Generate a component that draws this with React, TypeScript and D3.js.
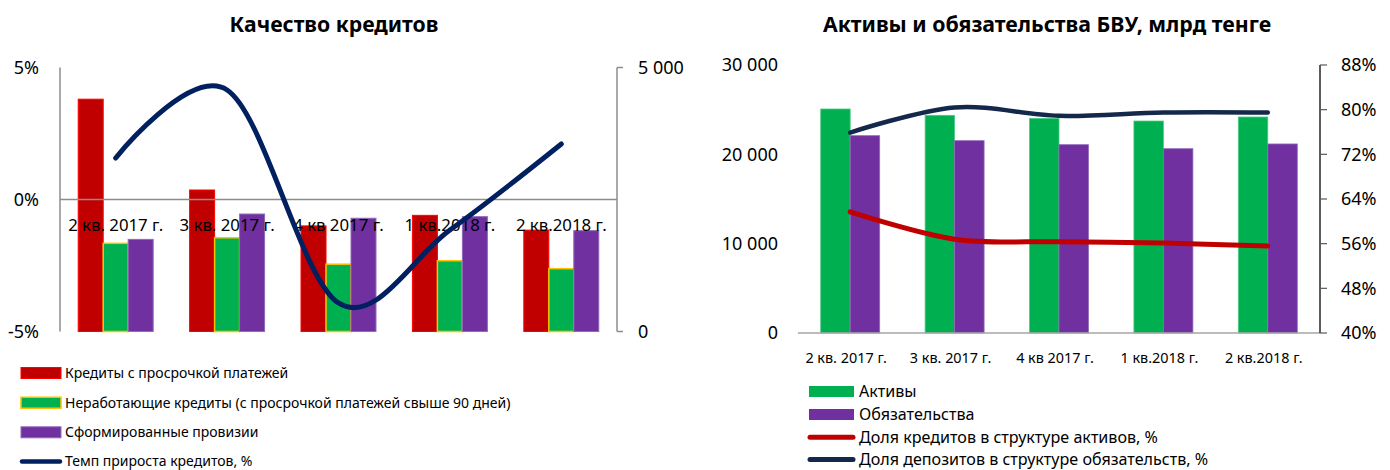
import React from "react";
import * as d3 from "d3";

// ---------- Left chart data ----------
const catsLeft = ["2 кв. 2017 г.", "3 кв. 2017 г.", "4 кв 2017 г.", "1 кв.2018 г.", "2 кв.2018 г."];
const overdueLoans = [3.8, 0.36, -1.0, -0.6, -1.16];
const npl = [-1.66, -1.45, -2.45, -2.32, -2.62];
const provisions = [-1.51, -0.55, -0.71, -0.65, -1.18];
const loanGrowth = [3286, 4574, 540, 1922, 3551];
const leftPctTicks = [-5, 0, 5];
const leftCountTicks = [0, 5000];
const leftSeriesNames = [
  "Кредиты с просрочкой платежей",
  "Неработающие кредиты (с просрочкой платежей свыше 90 дней)",
  "Сформированные провизии",
  "Темп прироста кредитов, %",
];

// ---------- Right chart data ----------
const catsRight = ["2 кв. 2017 г.", "3 кв. 2017 г.", "4 кв 2017 г.", "1 кв.2018 г.", "2 кв.2018 г."];
const assets = [25075, 24370, 24030, 23730, 24180];
const liabilities = [22090, 21530, 21080, 20630, 21160];
const loanShare = [61.7, 56.8, 56.35, 56.1, 55.6];
const depositShare = [75.9, 80.4, 78.9, 79.5, 79.5];
const rightValTicks = [0, 10000, 20000, 30000];
const rightPctTicks = [40, 48, 56, 64, 72, 80, 88];
const rightSeriesNames = [
  "Активы",
  "Обязательства",
  "Доля кредитов в структуре активов, %",
  "Доля депозитов в структуре обязательств, %",
];

const FONT = "'Noto Sans', 'Open Sans', sans-serif";
const fmtThousands = (v: number) => d3.format(",")(v).replace(/,/g, " ");

function LeftChart() {
  const x0 = 60, x1 = 617, yTop = 67.5, yBot = 331.5;
  const xBand = d3.scaleBand<string>().domain(catsLeft).range([x0, x1]).paddingInner(0.327).paddingOuter(0.1635);
  const keys = ["a", "b", "c"];
  const xSub = d3.scaleBand<string>().domain(keys).range([0, xBand.bandwidth()]);
  const yPct = d3.scaleLinear().domain([-5, 5]).range([yBot, yTop]);
  const yCnt = d3.scaleLinear().domain([0, 5000]).range([yBot, yTop]);
  const series = [
    { key: "a", vals: overdueLoans, fill: "#C00000", stroke: "#FF0000", sw: 1 },
    { key: "b", vals: npl, fill: "#00B050", stroke: "#FFC000", sw: 1.5 },
    { key: "c", vals: provisions, fill: "#7030A0", stroke: "#8F6BB8", sw: 1 },
  ];
  const cx = (c: string) => (xBand(c) as number) + xBand.bandwidth() / 2;
  const line = d3
    .line<number>()
    .x((_, i) => cx(catsLeft[i]))
    .y((d) => yCnt(d))
    .curve(d3.curveCatmullRom.alpha(0));
  const legendRows = [373, 402.7, 432.3, 461.5];
  return (
    <g>
      <text x={334} y={32} textAnchor="middle" fontFamily={FONT} fontWeight="bold" fontSize={21.2} fill="#000">
        Качество кредитов
      </text>
      {/* bars */}
      {series.map((s) =>
        s.vals.map((v, i) => {
          const c = catsLeft[i];
          const bx = (xBand(c) as number) + (xSub(s.key) as number);
          const top = yPct(v);
          return (
            <rect
              key={s.key + i}
              x={bx}
              y={top}
              width={xSub.bandwidth()}
              height={yPct(-5) - top}
              fill={s.fill}
              stroke={s.stroke}
              strokeWidth={s.sw}
            />
          );
        })
      )}
      {/* zero line */}
      <line x1={x0} x2={x1} y1={yPct(0)} y2={yPct(0)} stroke="#8C8C8C" strokeWidth={1.5} />
      {/* left axis */}
      <line x1={x0} x2={x0} y1={yTop} y2={yBot} stroke="#8C8C8C" strokeWidth={1.5} />
      {leftPctTicks.map((t) => (
        <text key={t} x={39} y={yPct(t)} dy="0.35em" textAnchor="end" fontFamily={FONT} fontSize={18} fill="#000">
          {t + "%"}
        </text>
      ))}
      {/* right axis */}
      <line x1={x1} x2={x1} y1={yTop} y2={yBot} stroke="#8C8C8C" strokeWidth={1.5} />
      {leftCountTicks.map((t) => (
        <g key={t}>
          <line x1={x1} x2={x1 + 6} y1={yCnt(t)} y2={yCnt(t)} stroke="#8C8C8C" strokeWidth={1.5} />
          <text x={638} y={yCnt(t)} dy="0.35em" fontFamily={FONT} fontSize={18} fill="#000">
            {fmtThousands(t)}
          </text>
        </g>
      ))}
      {/* category labels */}
      {catsLeft.map((c) => (
        <text key={c} x={cx(c)} y={225} dy="0.35em" textAnchor="middle" fontFamily={FONT} fontSize={16.8} fill="#000">
          {c}
        </text>
      ))}
      {/* line */}
      <path d={line(loanGrowth) || ""} fill="none" stroke="#002060" strokeWidth={5} strokeLinecap="round" />
      {/* legend */}
      {series.map((s, i) => (
        <g key={"lg" + i}>
          <rect x={21} y={legendRows[i] - 5.5} width={40} height={11} fill={s.fill} stroke={s.stroke} strokeWidth={s.sw} />
          <text x={65} y={legendRows[i]} dy="0.35em" fontFamily={FONT} fontSize={14} fill="#000">
            {leftSeriesNames[i]}
          </text>
        </g>
      ))}
      <line x1={22} x2={60} y1={legendRows[3]} y2={legendRows[3]} stroke="#002060" strokeWidth={4.5} strokeLinecap="round" />
      <text x={65} y={legendRows[3]} dy="0.35em" fontFamily={FONT} fontSize={14} fill="#000">
        {leftSeriesNames[3]}
      </text>
    </g>
  );
}

function RightChart() {
  const x0 = 798, x1 = 1320, yTop = 65, yBot = 333;
  const xBand = d3.scaleBand<string>().domain(catsRight).range([x0, x1]).paddingInner(0.435).paddingOuter(0.2175);
  const keys = ["a", "b"];
  const xSub = d3.scaleBand<string>().domain(keys).range([0, xBand.bandwidth()]);
  const yVal = d3.scaleLinear().domain([0, 30000]).range([yBot, yTop]);
  const yPct = d3.scaleLinear().domain([40, 88]).range([yBot, yTop]);
  const series = [
    { key: "a", vals: assets, fill: "#00B050", stroke: "#4FCB85" },
    { key: "b", vals: liabilities, fill: "#7030A0", stroke: "#8F6BB8" },
  ];
  const cx = (c: string) => (xBand(c) as number) + xBand.bandwidth() / 2;
  const line = d3
    .line<number>()
    .x((_, i) => cx(catsRight[i]))
    .y((d) => yPct(d))
    .curve(d3.curveCatmullRom.alpha(0));
  const legendRows = [391.5, 414.5, 437.3, 459.5];
  return (
    <g>
      <text x={1047} y={32} textAnchor="middle" fontFamily={FONT} fontWeight="bold" fontSize={21.3} fill="#000">
        Активы и обязательства БВУ, млрд тенге
      </text>
      {series.map((s) =>
        s.vals.map((v, i) => {
          const c = catsRight[i];
          const bx = (xBand(c) as number) + (xSub(s.key) as number);
          const top = yVal(v);
          return (
            <rect key={s.key + i} x={bx} y={top} width={xSub.bandwidth()} height={yVal(0) - top} fill={s.fill} stroke={s.stroke} strokeWidth={0.8} />
          );
        })
      )}
      {/* bottom axis */}
      <line x1={x0} x2={x1} y1={yBot} y2={yBot} stroke="#A6A6A6" strokeWidth={1.5} />
      {rightValTicks.map((t) => (
        <text key={t} x={778} y={yVal(t)} dy="0.35em" textAnchor="end" fontFamily={FONT} fontSize={18} fill="#000">
          {fmtThousands(t)}
        </text>
      ))}
      {/* right axis */}
      <line x1={x1} x2={x1} y1={yTop} y2={yBot} stroke="#262626" strokeWidth={1.5} />
      {rightPctTicks.map((t) => (
        <g key={t}>
          <line x1={x1} x2={x1 + 7} y1={yPct(t)} y2={yPct(t)} stroke="#595959" strokeWidth={1.2} />
          <text x={1341} y={yPct(t)} dy="0.35em" fontFamily={FONT} fontSize={18} fill="#000">
            {t + "%"}
          </text>
        </g>
      ))}
      {catsRight.map((c) => (
        <text key={c} x={cx(c) - 4} y={358} dy="0.35em" textAnchor="middle" fontFamily={FONT} fontSize={14.4} fill="#000">
          {c}
        </text>
      ))}
      <path d={line(loanShare) || ""} fill="none" stroke="#C00000" strokeWidth={5} strokeLinecap="round" />
      <path d={line(depositShare) || ""} fill="none" stroke="#13284A" strokeWidth={4.5} strokeLinecap="round" />
      {/* legend */}
      {series.map((s, i) => (
        <g key={"rg" + i}>
          <rect x={809} y={legendRows[i] - 5.5} width={45} height={11} fill={s.fill} />
          <text x={859} y={legendRows[i]} dy="0.35em" fontFamily={FONT} fontSize={16.1} fill="#000">
            {rightSeriesNames[i]}
          </text>
        </g>
      ))}
      <line x1={810} x2={853} y1={legendRows[2]} y2={legendRows[2]} stroke="#C00000" strokeWidth={5} strokeLinecap="round" />
      <text x={859} y={legendRows[2]} dy="0.35em" fontFamily={FONT} fontSize={16.1} fill="#000">
        {rightSeriesNames[2]}
      </text>
      <line x1={810} x2={853} y1={legendRows[3]} y2={legendRows[3]} stroke="#13284A" strokeWidth={5} strokeLinecap="round" />
      <text x={859} y={legendRows[3]} dy="0.35em" fontFamily={FONT} fontSize={16.1} fill="#000">
        {rightSeriesNames[3]}
      </text>
    </g>
  );
}

export default function App() {
  return (
    <svg width={1390} height={470} style={{ position: "absolute", left: 0, top: 0, background: "#fff" }}>
      <rect x={0} y={0} width={1390} height={470} fill="#fff" />
      <LeftChart />
      <RightChart />
    </svg>
  );
}
